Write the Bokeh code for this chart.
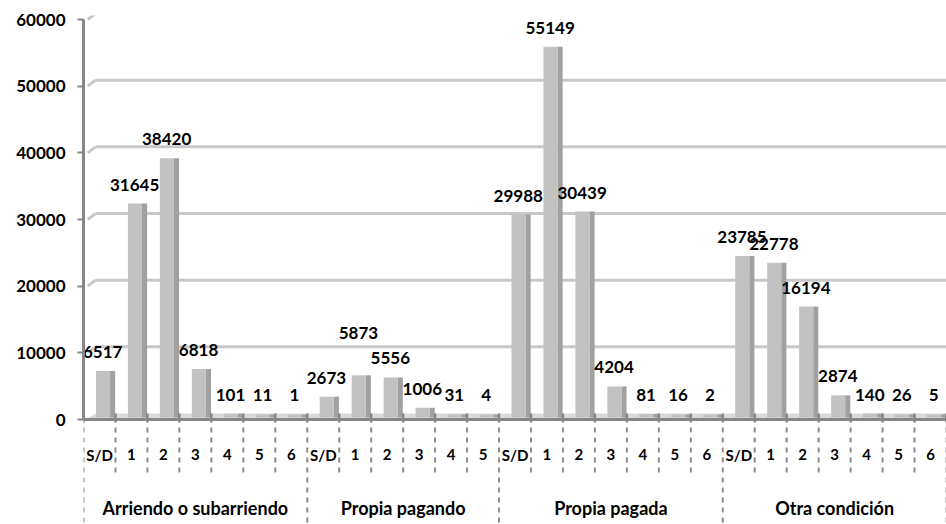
from bokeh.plotting import figure
from bokeh.models import FactorRange, Range1d, ColumnDataSource, FixedTicker
from bokeh.transform import dodge
from bokeh.core.properties import value
from bokeh.embed import file_html
from bokeh.resources import INLINE

# ---------------- data ----------------
groups = ["Arriendo o subarriendo", "Propia pagando", "Propia pagada", "Otra condición"]
cats_arriendo = ["S/D", "1", "2", "3", "4", "5", "6"]
cats_pagando = ["S/D", "1", "2", "3", "4", "5"]
cats_pagada = ["S/D", "1", "2", "3", "4", "5", "6"]
cats_otra = ["S/D", "1", "2", "3", "4", "5", "6"]
vals_arriendo = [6517, 31645, 38420, 6818, 101, 11, 1]
vals_pagando = [2673, 5873, 5556, 1006, 31, 4]
vals_pagada = [29988, 55149, 30439, 4204, 81, 16, 2]
vals_otra = [23785, 22778, 16194, 2874, 140, 26, 5]
y_ticks = [0, 10000, 20000, 30000, 40000, 50000, 60000]

cats_by_group = [cats_arriendo, cats_pagando, cats_pagada, cats_otra]
vals_by_group = [vals_arriendo, vals_pagando, vals_pagada, vals_otra]

# ---------------- layout constants ----------------
FONT = "Lato"
PX = 150.0                      # data units per screen pixel (vertical)
Y_START, Y_END = -105 * PX, 404 * PX
DEPTH = 5 * PX                  # pseudo-3D depth offset
BAR = "#c2c2c2"
BAR_SIDE = "#a0a0a0"
GRID = "#c8c8c8"
AXIS = "#868686"
SEP = "#8c8c8c"
LABEL_OFFSET = -24
LABEL_NUDGE = {("Propia pagando", "1"): -23}   # label moved up to avoid overlap

factors, values, sublabels, group_first, offsets = [], [], [], [], []
for g, cats, vals in zip(groups, cats_by_group, vals_by_group):
    for i, (c, v) in enumerate(zip(cats, vals)):
        factors.append((g, c))
        values.append(v)
        sublabels.append(c)
        group_first.append(i == 0)
        offsets.append(LABEL_OFFSET + LABEL_NUDGE.get((g, c), 0))

p = figure(
    width=946, height=524,
    x_range=FactorRange(*factors, factor_padding=0, group_padding=0, range_padding=0),
    y_range=Range1d(Y_START, Y_END),
    output_backend="svg", toolbar_location=None,
    min_border_left=83, min_border_right=0, min_border_top=15, min_border_bottom=0,
)
p.outline_line_color = None
p.xaxis.visible = False
p.xgrid.grid_line_color = None
p.ygrid.grid_line_color = None
p.background_fill_color = "white"

# y axis
yax = p.yaxis[0]
yax.ticker = FixedTicker(ticks=y_ticks)
yax.bounds = (0, 60000)
yax.axis_line_color = AXIS
yax.axis_line_width = 3
yax.major_tick_line_color = AXIS
yax.major_tick_line_width = 2
yax.major_tick_out = 6
yax.major_tick_in = 0
yax.minor_tick_line_color = None
yax.major_label_text_font = FONT
yax.major_label_text_font_style = "bold"
yax.major_label_text_font_size = "17px"
yax.major_label_text_color = "black"
yax.major_label_standoff = 12

# back-wall gridlines (3D offset)
off = 6 * PX
n = len(y_ticks) - 1
gx0 = [0.13] * n + [0.38] * n
gx1 = [0.38] * n + [27] * n
gy0 = list(y_ticks[1:]) + [t + off for t in y_ticks[1:]]
gy1 = [t + off for t in y_ticks[1:]] * 2
p.segment(x0=gx0, y0=gy0, x1=gx1, y1=gy1, line_color=GRID, line_width=3)

# floor
p.patch(x=[0.05, 0.38, 27, 27], y=[0, off, off, 0], fill_color="#dadada", line_color=None)

src = ColumnDataSource(dict(x=factors, top=values, lab=[str(v) for v in values],
                            sub=sublabels, yoff=offsets,
                            top3d=[v + DEPTH for v in values]))

# bars: side face then front face (lifted by the 3D depth)
p.vbar(x=dodge("x", 0.41, range=p.x_range), top="top3d", bottom=DEPTH * 0.4, width=0.16,
       source=src, fill_color=BAR_SIDE, line_color=None)
p.vbar(x=dodge("x", 0.11, range=p.x_range), top="top3d", bottom=DEPTH * 0.4, width=0.44,
       source=src, fill_color=BAR, line_color=None)

# x axis line
p.segment(x0=[0], y0=[0], x1=[27], y1=[0], line_color=AXIS, line_width=3)

# boundaries
bsrc_all = ColumnDataSource(dict(x=factors))
p.segment(x0=dodge("x", -0.5, range=p.x_range), x1=dodge("x", -0.5, range=p.x_range),
          y0=-3 * PX, y1=6 * PX, source=bsrc_all, line_color=AXIS, line_width=2.5)

short_f = [f for f, first in zip(factors, group_first) if not first]
long_f = [f for f, first in zip(factors, group_first) if first]
p.segment(x0=dodge("x", -0.5, range=p.x_range), x1=dodge("x", -0.5, range=p.x_range),
          y0=-8 * PX, y1=-58 * PX, source=ColumnDataSource(dict(x=short_f)),
          line_color=SEP, line_width=2, line_dash="5 5")
p.segment(x0=dodge("x", -0.5, range=p.x_range), x1=dodge("x", -0.5, range=p.x_range),
          y0=-8 * PX, y1=-105 * PX, source=ColumnDataSource(dict(x=long_f)),
          line_color=SEP, line_width=2, line_dash="5 5")
p.segment(x0=dodge("x", 0.5, range=p.x_range), x1=dodge("x", 0.5, range=p.x_range),
          y0=-8 * PX, y1=-105 * PX, source=ColumnDataSource(dict(x=[factors[-1]])),
          line_color=SEP, line_width=2, line_dash="5 5")
p.segment(x0=dodge("x", 0.5, range=p.x_range), x1=dodge("x", 0.5, range=p.x_range),
          y0=-3 * PX, y1=6 * PX, source=ColumnDataSource(dict(x=[factors[-1]])),
          line_color=AXIS, line_width=2.5)

# data labels
p.text(x=dodge("x", 0.1, range=p.x_range), y="top", text="lab", source=src,
       text_font=value(FONT), text_font_style="bold", text_font_size="17px",
       text_color="black", text_align="center", text_baseline="middle", y_offset="yoff")

# category labels
p.text(x="x", y=-35 * PX, text="sub", source=src,
       text_font=value(FONT), text_font_style="bold", text_font_size="15px",
       text_color="black", text_align="center", text_baseline="middle")

# group labels
p.text(x=groups, y=[-88 * PX] * len(groups), text=groups,
       text_font=value(FONT), text_font_style="bold", text_font_size="18px",
       text_color="black", text_align="center", text_baseline="middle")

open("out.html", "w").write(file_html(p, INLINE))
